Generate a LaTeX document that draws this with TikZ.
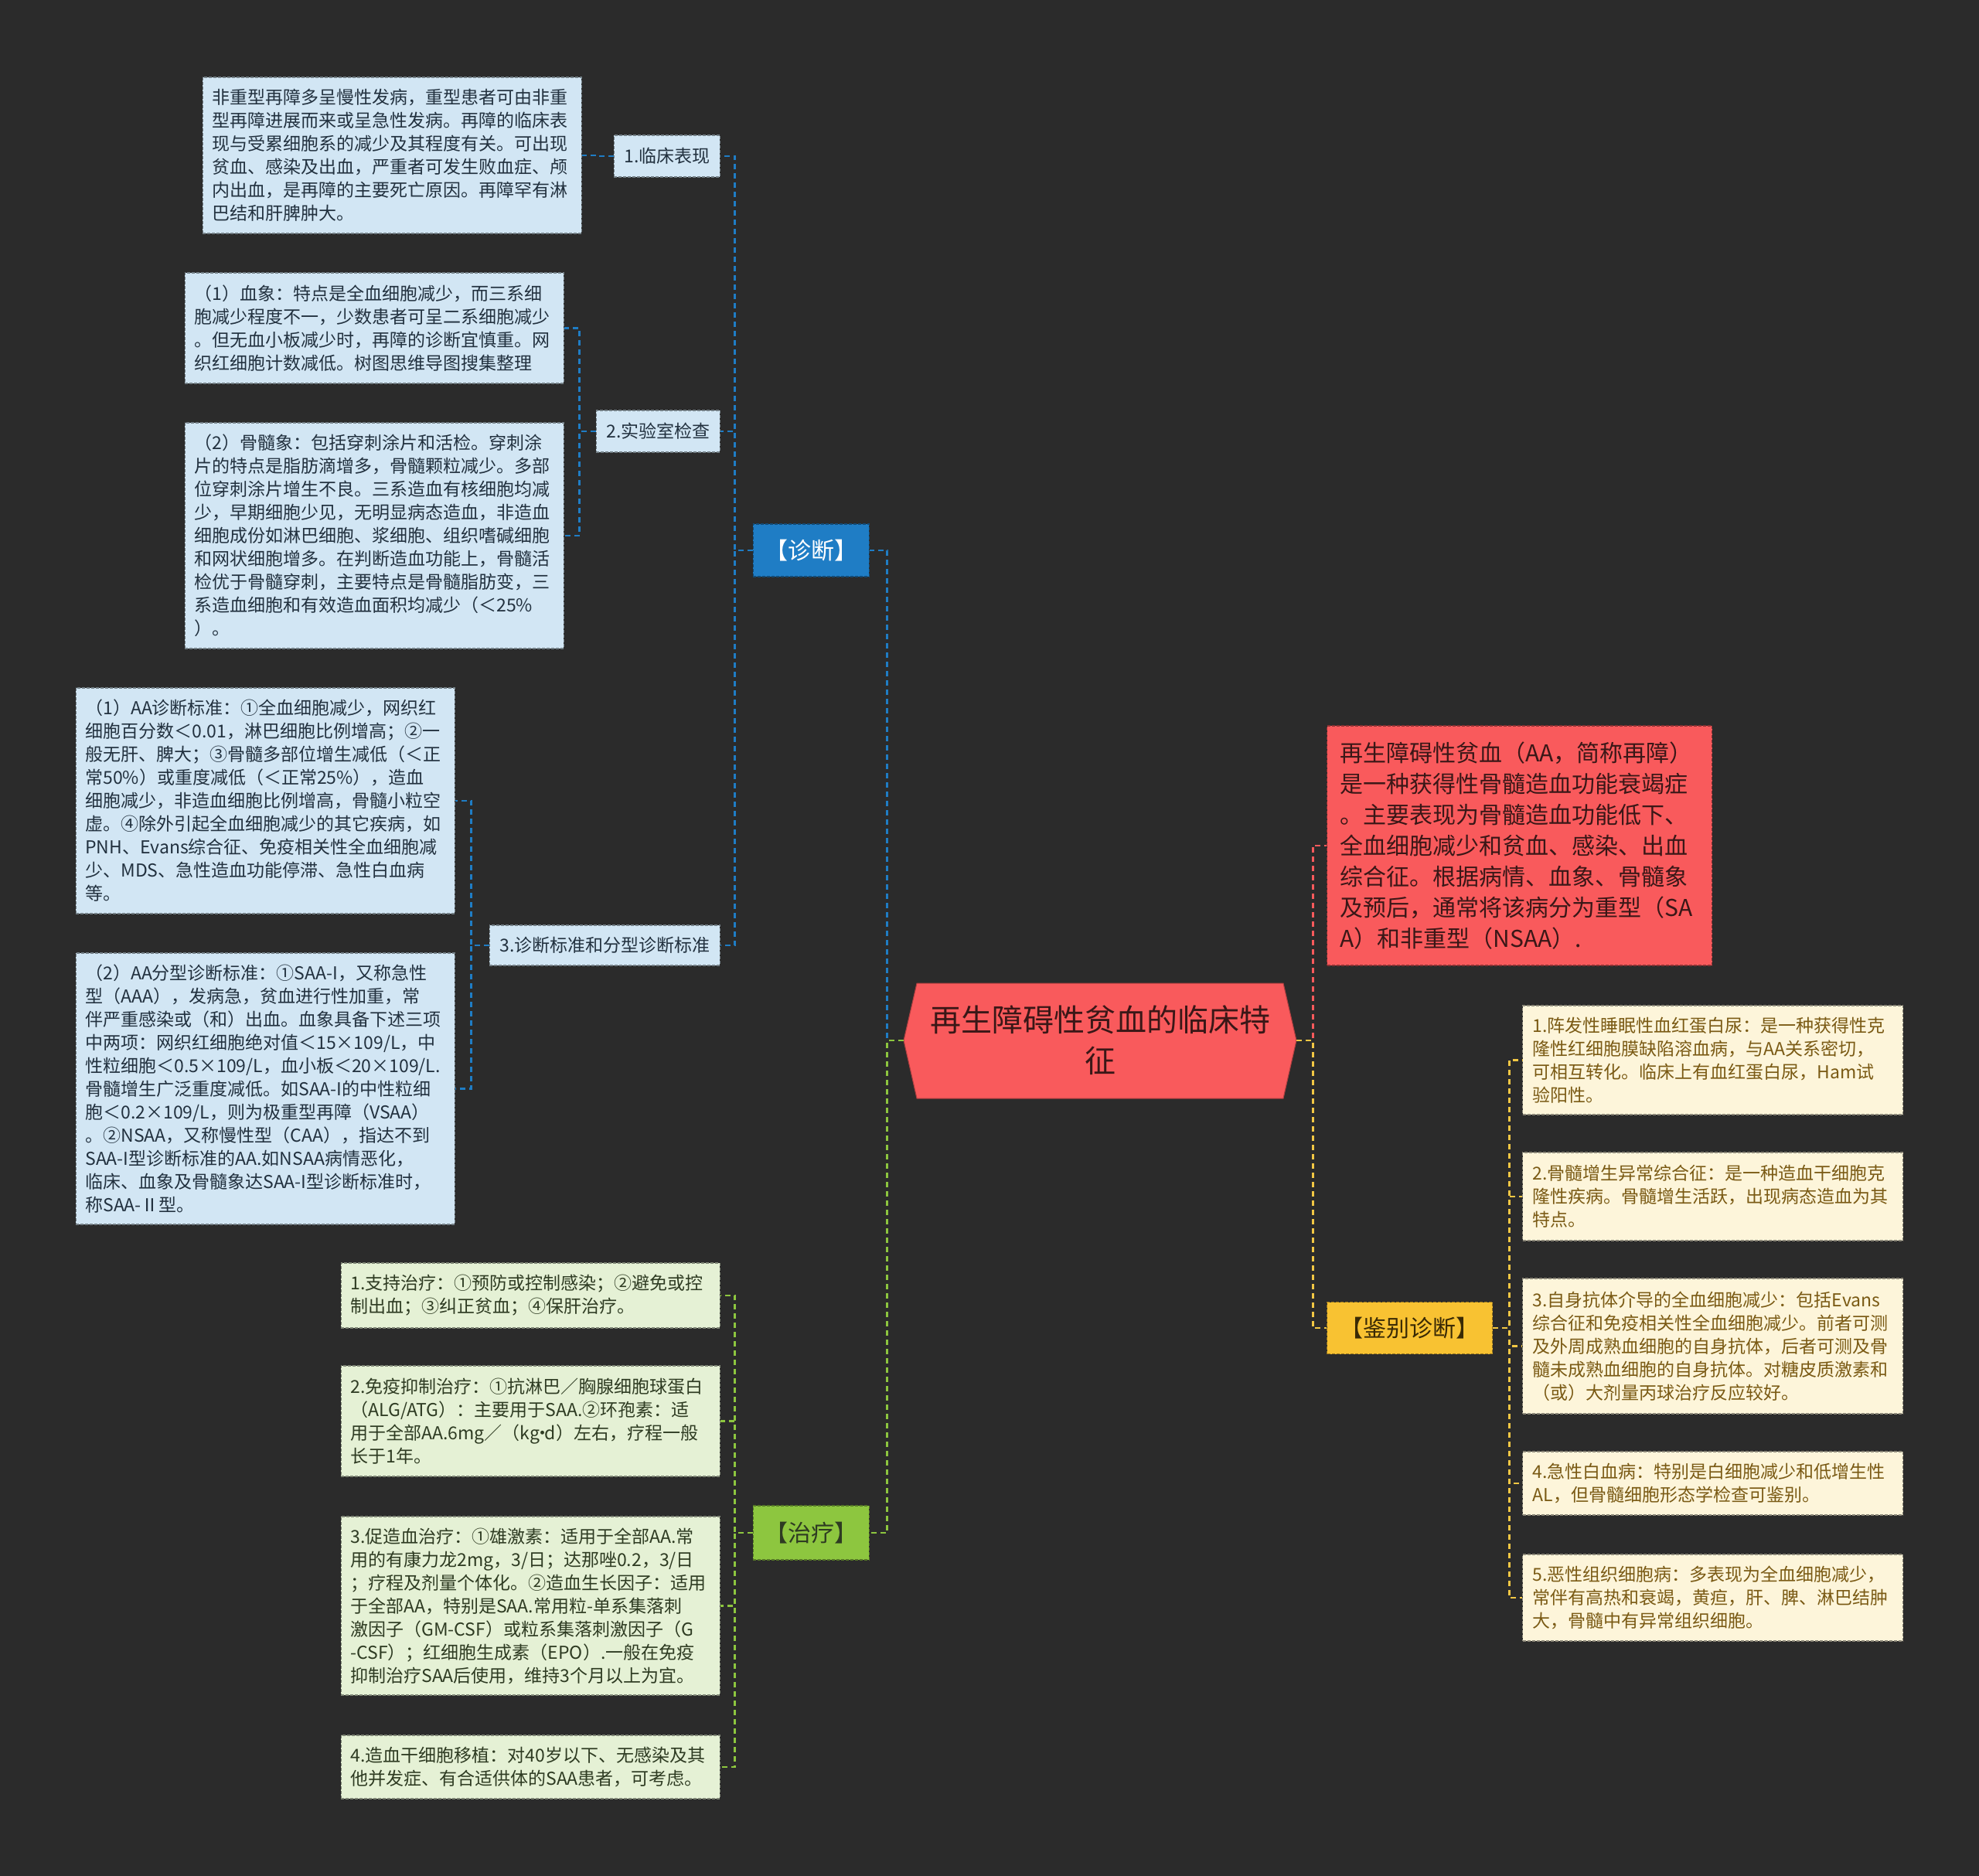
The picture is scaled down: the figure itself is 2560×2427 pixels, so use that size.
\documentclass[tikz,border=0pt]{standalone}
\usepackage{fontspec}
\setmainfont{Noto Sans CJK SC}
\usepackage{tikz}
\usepackage{xcolor}
\definecolor{bgc}{HTML}{2B2B2B}
\definecolor{bluel}{HTML}{D2E6F4}\definecolor{bluet}{HTML}{22313F}
\definecolor{greenl}{HTML}{E5F1D5}\definecolor{greent}{HTML}{2E3B22}
\definecolor{beige}{HTML}{FDF5DA}\definecolor{beiget}{HTML}{7A5A14}
\definecolor{rootred}{HTML}{F95A5C}\definecolor{redt}{HTML}{3A1717}
\definecolor{yel}{HTML}{F8C232}\definecolor{yelt}{HTML}{3A2A05}
\definecolor{blueb}{HTML}{1F7DC5}\definecolor{greenb}{HTML}{8DC63F}
\definecolor{yelc}{HTML}{F2C744}
\begin{document}
\begin{tikzpicture}[x=1bp,y=-1bp,
 leaf/.style n args={2}{fill=#1,draw=#1!55!black,dash pattern=on 4bp off 2bp,line width=1.2bp,text=#2,inner xsep=12bp,inner ysep=6bp,text width=466bp,align=left,font=\fontsize{23bp}{30bp}\selectfont},
 sublab/.style={fill=bluel,draw=bluel!55!black,dash pattern=on 4bp off 2bp,line width=1.2bp,text=bluet,inner xsep=13bp,minimum height=54bp,font=\fontsize{23bp}{30bp}\selectfont},
 branchbox/.style n args={2}{fill=#1,draw=#1!60!black,dash pattern=on 4bp off 2bp,line width=1.2bp,text=#2,inner xsep=15bp,minimum height=68bp,font=\fontsize{30bp}{36bp}\selectfont},
 conn/.style={draw=#1,dash pattern=on 7bp off 5bp,line width=2.8bp}]
\fill[bgc] (0,0) rectangle (2560,2427);
% centre
\fill[rootred,draw=rootred!70!black,line width=1bp] (1169,1346) -- (1186,1272) -- (1660,1272) -- (1677,1346) -- (1660,1421) -- (1186,1421) -- cycle;
\node[text=redt,inner sep=0,minimum width=508bp,minimum height=149bp,text width=474bp,align=center,font=\fontsize{40bp}{53bp}\selectfont] (root) at (1423,1346) {再生障碍性贫血的临床特\\征};
% left branches
\node[branchbox={blueb}{white},anchor=east] (diag) at (1125,712) {【诊断】};
\node[branchbox={greenb}{greent},anchor=east,minimum height=70bp] (treat) at (1125,1983) {【治疗】};
\node[sublab,anchor=east] (la) at (932,202) {1.临床表现};
\node[sublab,anchor=east] (lb) at (932,558) {2.实验室检查};
\node[sublab,anchor=east,minimum height=52bp] (lc) at (932,1223) {3.诊断标准和分型诊断标准};
\node[leaf={bluel}{bluet},anchor=east,minimum height=202bp] (a1) at (753,201) {非重型再障多呈慢性发病，重型患者可由非重\\型再障进展而来或呈急性发病。再障的临床表\\现与受累细胞系的减少及其程度有关。可出现\\贫血、感染及出血，严重者可发生败血症、颅\\内出血，是再障的主要死亡原因。再障罕有淋\\巴结和肝脾肿大。};
\node[leaf={bluel}{bluet},anchor=east,minimum height=143bp] (b1) at (730,424.5) {（1）血象：特点是全血细胞减少，而三系细\\胞减少程度不一，少数患者可呈二系细胞减少\\。但无血小板减少时，再障的诊断宜慎重。网\\织红细胞计数减低。树图思维导图搜集整理};
\node[leaf={bluel}{bluet},anchor=east,minimum height=292bp] (b2) at (730,693) {（2）骨髓象：包括穿刺涂片和活检。穿刺涂\\片的特点是脂肪滴增多，骨髓颗粒减少。多部\\位穿刺涂片增生不良。三系造血有核细胞均减\\少，早期细胞少见，无明显病态造血，非造血\\细胞成份如淋巴细胞、浆细胞、组织嗜碱细胞\\和网状细胞增多。在判断造血功能上，骨髓活\\检优于骨髓穿刺，主要特点是骨髓脂肪变，三\\系造血细胞和有效造血面积均减少（＜25\%\\）。};
\node[leaf={bluel}{bluet},anchor=east,minimum height=292bp] (c1) at (589,1036) {（1）AA诊断标准：①全血细胞减少，网织红\\细胞百分数＜0.01，淋巴细胞比例增高；②一\\般无肝、脾大；③骨髓多部位增生减低（＜正\\常50\%）或重度减低（＜正常25\%），造血\\细胞减少，非造血细胞比例增高，骨髓小粒空\\虚。④除外引起全血细胞减少的其它疾病，如\\PNH、Evans综合征、免疫相关性全血细胞减\\少、MDS、急性造血功能停滞、急性白血病\\等。};
\node[leaf={bluel}{bluet},anchor=east,minimum height=351bp] (c2) at (589,1408.5) {（2）AA分型诊断标准：①SAA-I，又称急性\\型（AAA），发病急，贫血进行性加重，常\\伴严重感染或（和）出血。血象具备下述三项\\中两项：网织红细胞绝对值＜15×109/L，中\\性粒细胞＜0.5×109/L，血小板＜20×109/L.\\骨髓增生广泛重度减低。如SAA-I的中性粒细\\胞＜0.2×109/L，则为极重型再障（VSAA）\\。②NSAA，又称慢性型（CAA），指达不到\\SAA-I型诊断标准的AA.如NSAA病情恶化，\\临床、血象及骨髓象达SAA-I型诊断标准时，\\称SAA-Ⅱ型。};
\node[leaf={greenl}{greent},anchor=east,minimum height=84bp] (t1) at (932,1676) {1.支持治疗：①预防或控制感染；②避免或控\\制出血；③纠正贫血；④保肝治疗。};
\node[leaf={greenl}{greent},anchor=east,minimum height=143bp] (t2) at (932,1838.5) {2.免疫抑制治疗：①抗淋巴／胸腺细胞球蛋白\\（ALG/ATG）：主要用于SAA.②环孢素：适\\用于全部AA.6mg／（kg\kern-.35em·\kern-.35em d）左右，疗程一般\\长于1年。};
\node[leaf={greenl}{greent},anchor=east,minimum height=231bp] (t3) at (932,2077.5) {3.促造血治疗：①雄激素：适用于全部AA.常\\用的有康力龙2mg，3/日；达那唑0.2，3/日\\；疗程及剂量个体化。②造血生长因子：适用\\于全部AA，特别是SAA.常用粒-单系集落刺\\激因子（GM-CSF）或粒系集落刺激因子（G\\-CSF）；红细胞生成素（EPO）.一般在免疫\\抑制治疗SAA后使用，维持3个月以上为宜。};
\node[leaf={greenl}{greent},anchor=east,minimum height=82bp] (t4) at (932,2286) {4.造血干细胞移植：对40岁以下、无感染及其\\他并发症、有合适供体的SAA患者，可考虑。};
% right branches
\node[leaf={rootred}{redt},anchor=west,minimum height=310bp,text width=464bp,inner xsep=17bp,font=\fontsize{30bp}{40bp}\selectfont] (aa) at (1716,1094) {再生障碍性贫血（AA，简称再障）\\是一种获得性骨髓造血功能衰竭症\\。主要表现为骨髓造血功能低下、\\全血细胞减少和贫血、感染、出血\\综合征。根据病情、血象、骨髓象\\及预后，通常将该病分为重型（SA\\A）和非重型（NSAA）.};
\node[branchbox={yel}{yelt},anchor=west,minimum height=67bp,inner xsep=17bp] (jb) at (1716,1718) {【鉴别诊断】};
\node[leaf={beige}{beiget},anchor=west,minimum height=141bp,inner xsep=13bp] (r1) at (1969,1371.5) {1.阵发性睡眠性血红蛋白尿：是一种获得性克\\隆性红细胞膜缺陷溶血病，与AA关系密切，\\可相互转化。临床上有血红蛋白尿，Ham试\\验阳性。};
\node[leaf={beige}{beiget},anchor=west,minimum height=114bp,inner xsep=13bp] (r2) at (1969,1548) {2.骨髓增生异常综合征：是一种造血干细胞克\\隆性疾病。骨髓增生活跃，出现病态造血为其\\特点。};
\node[leaf={beige}{beiget},anchor=west,minimum height=175bp,inner xsep=13bp] (r3) at (1969,1741.5) {3.自身抗体介导的全血细胞减少：包括Evans\\综合征和免疫相关性全血细胞减少。前者可测\\及外周成熟血细胞的自身抗体，后者可测及骨\\髓未成熟血细胞的自身抗体。对糖皮质激素和\\（或）大剂量丙球治疗反应较好。};
\node[leaf={beige}{beiget},anchor=west,minimum height=82bp,inner xsep=13bp] (r4) at (1969,1919) {4.急性白血病：特别是白细胞减少和低增生性\\AL，但骨髓细胞形态学检查可鉴别。};
\node[leaf={beige}{beiget},anchor=west,minimum height=112bp,inner xsep=13bp] (r5) at (1969,2067) {5.恶性组织细胞病：多表现为全血细胞减少，\\常伴有高热和衰竭，黄疸，肝、脾、淋巴结肿\\大，骨髓中有异常组织细胞。};
% connectors
\draw[conn=blueb] (root.west) -- ++(-21,0) |- (diag.east);
\draw[conn=greenb] (root.west) -- ++(-21,0) |- (treat.east);
\foreach \c in {la,lb,lc} {\draw[conn=blueb] (diag.west) -- ++(-23,0) |- (\c.east);}
\draw[conn=blueb] (la.west) -- ++(-21,0) |- (a1.east);
\foreach \c in {b1,b2} {\draw[conn=blueb] (lb.west) -- ++(-21,0) |- (\c.east);}
\foreach \c in {c1,c2} {\draw[conn=blueb] (lc.west) -- ++(-23,0) |- (\c.east);}
\foreach \c in {t1,t2,t3,t4} {\draw[conn=greenb] (treat.west) -- ++(-23,0) |- (\c.east);}
\draw[conn=rootred] (root.east) -- ++(21,0) |- (aa.west);
\draw[conn=yelc] (root.east) -- ++(21,0) |- (jb.west);
\foreach \c in {r1,r2,r3,r4,r5} {\draw[conn=yelc] (jb.east) -- ++(21,0) |- (\c.west);}
\end{tikzpicture}
\end{document}
